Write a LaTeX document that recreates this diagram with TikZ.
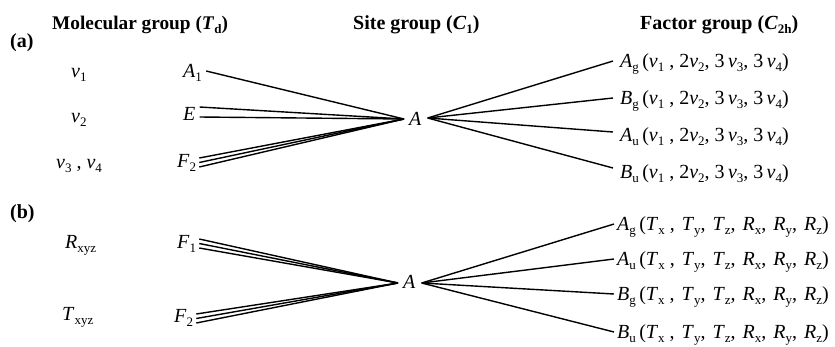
\documentclass[tikz,border=0pt]{standalone}
\usepackage{fontspec}
\setmainfont{Liberation Serif}
\usetikzlibrary{calc}

% lowered, smaller subscript
\newcommand\sbs[1]{\raisebox{-4.5pt}{\fontsize{13}{13}\selectfont #1}}
\newcommand\sy[2]{\textit{#1}\sbs{#2}}
\newcommand\vnu[1]{\textit{ν}\sbs{#1}}
\newcommand\cm{,\hspace{7pt}}
% factor-group entries
\newcommand\vibrow[2]{\sy{#1}{#2}\,(\vnu{1} , 2\vnu{2}, 3\,\vnu{3}, 3\,\vnu{4})}
\newcommand\extrow[2]{\sy{#1}{#2}\,(\sy{T}{x} \cm\sy{T}{y}\cm\sy{T}{z}\cm\sy{R}{x}\cm\sy{R}{y}\cm\sy{R}{z})}

\begin{document}
\begin{tikzpicture}[x=1pt,y=-1pt,
  txt/.style={inner sep=0pt, anchor=base west, font=\fontsize{20}{24}\selectfont},
  hdr/.style={txt, font=\fontsize{20}{24}\selectfont\bfseries},
  ln/.style={line width=1.4pt}]
\useasboundingbox (0,0) rectangle (835,346);

% headers
\node[hdr, font=\fontsize{19.3}{23}\selectfont\bfseries] (h1) at (52,29) {Molecular group (\sy{T}{d})};
\node[hdr] (h2) at (353,29) {Site group (\sy{C}{1})};
\node[hdr] (h3) at (640,29) {Factor group (\sy{C}{2h})};

% ---------- (a) internal vibrations ----------
\node[hdr] (pa) at (10,47) {(a)};
\node[txt] (n1) at (71,77) {\vnu{1}};
\node[txt] (n2) at (71,122) {\vnu{2}};
\node[txt] (n34) at (56,168) {\vnu{3}\ ,\ \vnu{4}};
\node[txt] (a1) at (183,77) {\sy{A}{1}};
\node[txt] (ee) at (183,120) {\textit{E}};
\node[txt] (f2a) at (177,167) {\sy{F}{2}};
\node[txt] (sa) at (409,125) {\textit{A}};
\coordinate (sain) at ($(sa.base west)+(-5,-6)$);
\coordinate (saout) at ($(sa.base east)+(6,-7)$);
\node[txt] (ag) at (620,67) {\vibrow{A}{g}};
\node[txt] (bg) at (620,104) {\vibrow{B}{g}};
\node[txt] (au) at (620,141) {\vibrow{A}{u}};
\node[txt] (bu) at (620,178) {\vibrow{B}{u}};

\draw[ln] ($(a1.base east)+(4,-6)$) -- (sain);
\draw[ln] ($(ee.base east)+(4,-13)$) -- (sain);
\draw[ln] ($(ee.base east)+(4,-3)$) -- (sain);
\draw[ln] ($(f2a.base east)+(3,-9)$) -- (sain);
\draw[ln] ($(f2a.base east)+(3,-4.5)$) -- (sain);
\draw[ln] ($(f2a.base east)+(3,0)$) -- (sain);
\draw[ln] (saout) -- ($(ag.base west)+(-7,-6)$);
\draw[ln] (saout) -- ($(bg.base west)+(-7,-6)$);
\draw[ln] (saout) -- ($(au.base west)+(-7,-9)$);
\draw[ln] (saout) -- ($(bu.base west)+(-7,-10)$);

% ---------- (b) external modes ----------
\node[hdr] (pb) at (10,218) {(b)};
\node[txt] (rx) at (65,248) {\sy{R}{xyz}};
\node[txt] (tx) at (62,320) {\sy{T}{xyz}};
\node[txt] (f1) at (177,248) {\sy{F}{1}};
\node[txt] (f2b) at (174,322) {\sy{F}{2}};
\node[txt] (sb) at (403,288) {\textit{A}};
\coordinate (sbin) at ($(sb.base west)+(-5,-5)$);
\coordinate (sbout) at ($(sb.base east)+(6,-5)$);
\node[txt] (agb) at (617,230) {\extrow{A}{g}};
\node[txt] (aub) at (617,265) {\extrow{A}{u}};
\node[txt] (bgb) at (617,300) {\extrow{B}{g}};
\node[txt] (bub) at (617,338) {\extrow{B}{u}};

\foreach \dy in {-9,-4.5,0}
  \draw[ln] ($(f1.base east)+(3,\dy)$) -- (sbin);
\foreach \dy in {-8,-3.5,1}
  \draw[ln] ($(f2b.base east)+(3,\dy)$) -- (sbin);
\draw[ln] (sbout) -- ($(agb.base west)+(-3,-6)$);
\draw[ln] (sbout) -- ($(aub.base west)+(-3,-6)$);
\draw[ln] (sbout) -- ($(bgb.base west)+(-3,-6)$);
\draw[ln] (sbout) -- ($(bub.base west)+(-3,-6)$);
\end{tikzpicture}
\end{document}
